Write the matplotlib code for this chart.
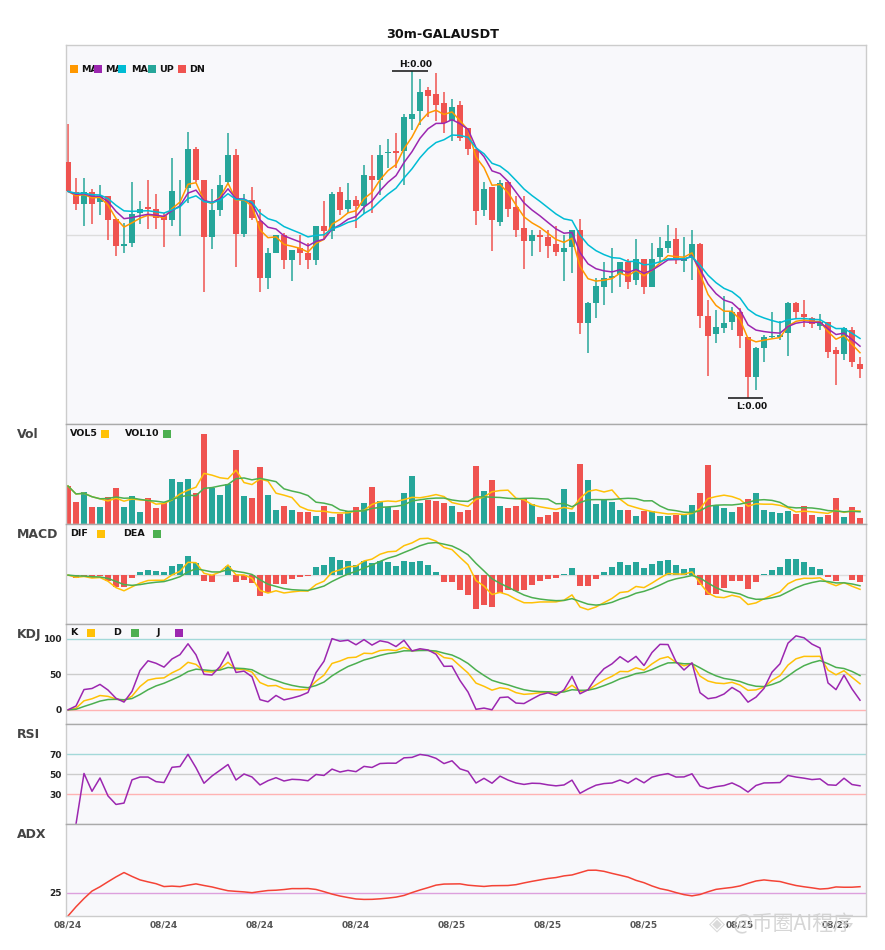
import numpy as np
import pandas as pd
import matplotlib
matplotlib.use("Agg")
import matplotlib.pyplot as plt
from matplotlib.patches import Rectangle
from matplotlib.transforms import Bbox, TransformedBbox

# ---------------- data (price in units of PRICE_SCALE) -------------
title = "30m-GALAUSDT"
opens = [813, 723, 686, 723, 692, 711, 643, 563, 572, 659, 678, 672, 652, 638, 731, 735, 853, 760, 590, 670,
         752, 835, 598, 700, 637, 467, 542, 594, 521, 555, 542, 521, 622, 605, 723, 672, 700, 680, 772, 760,
         839, 847, 847, 943, 965, 1030, 1018, 990, 935, 985, 915, 853, 670, 738, 632, 753, 678, 615, 578, 595,
         589, 568, 545, 558, 610, 332, 392, 440, 465, 478, 513, 460, 522, 440, 530, 557, 582, 517, 525, 568,
         352, 298, 315, 333, 365, 288, 170, 257, 290, 290, 300, 390, 358, 345, 322, 335, 250, 237, 310, 207]
highs = [928, 765, 765, 732, 744, 711, 643, 630, 754, 697, 760, 718, 660, 826, 760, 904, 857, 760, 733, 773,
         900, 852, 718, 738, 672, 557, 594, 600, 550, 594, 570, 622, 697, 723, 738, 751, 710, 803, 835, 863,
         882, 900, 957, 1085, 1060, 1038, 1080, 1024, 1003, 997, 915, 853, 753, 738, 760, 753, 710, 710, 610, 610,
         610, 620, 595, 610, 642, 395, 465, 513, 555, 513, 522, 582, 522, 570, 588, 624, 615, 588, 610, 570,
         400, 370, 412, 380, 375, 288, 260, 295, 363, 337, 395, 395, 400, 350, 358, 335, 260, 318, 320, 230]
lows = [725, 668, 620, 628, 655, 580, 532, 542, 560, 628, 613, 612, 560, 622, 593, 690, 752, 425, 554, 650,
        745, 500, 588, 640, 425, 432, 540, 494, 458, 505, 492, 505, 582, 582, 655, 660, 614, 658, 660, 715,
        795, 795, 743, 908, 925, 948, 935, 900, 875, 875, 833, 623, 650, 548, 620, 648, 590, 492, 532, 543,
        527, 533, 458, 480, 297, 242, 345, 385, 420, 440, 432, 445, 417, 438, 515, 540, 507, 485, 460, 317,
        173, 270, 300, 310, 255, 107, 132, 213, 285, 280, 233, 342, 318, 315, 310, 227, 145, 220, 200, 167]
closes = [725, 686, 723, 686, 710, 638, 563, 567, 657, 672, 672, 644, 638, 727, 733, 853, 760, 590, 670, 745,
          835, 598, 700, 644, 467, 540, 594, 521, 550, 542, 521, 622, 605, 718, 670, 700, 680, 775, 760, 835,
          842, 841, 948, 958, 1024, 1012, 985, 930, 978, 885, 853, 665, 733, 638, 750, 673, 610, 578, 595, 590,
          563, 545, 555, 610, 332, 390, 442, 465, 473, 513, 455, 522, 440, 522, 555, 577, 523, 525, 567, 353,
          293, 318, 332, 365, 293, 170, 255, 290, 292, 295, 390, 365, 348, 327, 335, 245, 237, 315, 215, 192]
volumes = [38, 22, 32, 17, 17, 27, 36, 17, 28, 12, 26, 16, 21, 45, 42, 45, 31, 90, 36, 29,
           40, 74, 28, 26, 57, 29, 14, 18, 14, 12, 12, 8, 18, 7, 10, 13, 17, 21, 37, 23,
           17, 14, 31, 48, 21, 24, 23, 21, 18, 12, 14, 58, 33, 44, 18, 16, 18, 25, 20, 7,
           9, 12, 35, 12, 60, 44, 20, 24, 22, 14, 14, 8, 13, 13, 8, 8, 9, 9, 19, 31,
           59, 19, 16, 12, 17, 25, 31, 14, 12, 11, 13, 10, 18, 9, 7, 9, 26, 7, 17, 6]
tick_index = [0, 12, 24, 36, 48, 60, 72, 84, 96]
tick_labels = ["08/24", "08/24", "08/24", "08/24", "08/25", "08/25", "08/25", "08/25", "08/25"]
ma_periods = [5, 8, 13]
PRICE_SCALE = 1e-6

# ---------------- indicators -------------------------------------------------------------
df = pd.DataFrame({"open": opens, "high": highs, "low": lows, "close": closes, "vol": volumes}, dtype=float)
n = len(df)
x = np.arange(n)
c, h, l, o = df["close"], df["high"], df["low"], df["open"]

mas = [c.ewm(span=p, adjust=False).mean() for p in ma_periods]
vol5 = df["vol"].rolling(5, min_periods=1).mean()
vol10 = df["vol"].rolling(10, min_periods=1).mean()

dif = c.ewm(span=6, adjust=False).mean() - c.ewm(span=13, adjust=False).mean()
dea = dif.ewm(span=5, adjust=False).mean()
hist = 2 * (dif - dea)

llv = l.rolling(9, min_periods=1).min()
hhv = h.rolling(9, min_periods=1).max()
rsv = ((c - llv) / (hhv - llv) * 100).fillna(0)
k = rsv.ewm(com=2, adjust=False).mean()
d = k.ewm(com=2, adjust=False).mean()
j = 3 * k - 2 * d

delta = c.diff()
ag = delta.clip(lower=0).ewm(alpha=1 / 14).mean()
al = (-delta).clip(lower=0).ewm(alpha=1 / 14).mean()
rsi = 100 * ag / (ag + al)

up_move = h.diff()
dn_move = -l.diff()
pdm = pd.Series(np.where((up_move > dn_move) & (up_move > 0), up_move, 0.0))
mdm = pd.Series(np.where((dn_move > up_move) & (dn_move > 0), dn_move, 0.0))
pc = c.shift(1)
tr = pd.concat([h - l, (h - pc).abs(), (l - pc).abs()], axis=1).max(axis=1)
atr = tr.ewm(alpha=1 / 10, adjust=False).mean()
pdi = 100 * pdm.ewm(alpha=1 / 10, adjust=False).mean() / atr
mdi = 100 * mdm.ewm(alpha=1 / 10, adjust=False).mean() / atr
dx = (100 * (pdi - mdi).abs() / (pdi + mdi)).fillna(0)
adx = dx.ewm(alpha=1 / 10, adjust=False).mean()

# ---------------- styling -------------------------------------------------------------
UP_C = "#26a69a"
DN_C = "#ef5350"
BG = "#f8f8fb"
FRAME = "#cccccc"
SEP = "#aaaaaa"
W, H = 885, 950

fig = plt.figure(figsize=(W / 100, H / 100), dpi=100)
fig.patch.set_facecolor("white")


def fx(px):
    return px / W


def fy(py):
    return 1 - py / H


def make_ax(top, bottom, sub=True):
    ax = fig.add_axes([fx(66), fy(bottom), fx(866) - fx(66), fy(top) - fy(bottom)])
    ax.set_facecolor(BG)
    for s in ax.spines.values():
        s.set_color(FRAME)
        s.set_linewidth(1)
    if sub:
        ax.spines["top"].set_color(SEP)
    ax.set_xlim(-0.25, n - 0.25)
    ax.tick_params(length=0, labelsize=6.5, colors="#222222", pad=3)
    ax.set_xticks([])
    return ax


ax_p = make_ax(45, 424, sub=False)
ax_v = make_ax(424, 524)
ax_m = make_ax(524, 624)
ax_k = make_ax(624, 724)
ax_r = make_ax(724, 824)
ax_a = make_ax(824, 916)

colors = np.where(c >= o, UP_C, DN_C)

# price
lo, hi = l.min(), h.max()
rng = hi - lo
ax_p.set_ylim(lo - 0.08 * rng, hi + 0.08 * rng)
ax_p.axhline((lo + hi) / 2, color="#dddddd", lw=1, zorder=0)
ax_p.set_yticks([])
ax_p.vlines(x, l, h, colors=colors, lw=1.1, zorder=2)
body_bottom = np.minimum(o, c)
body_h = np.maximum((c - o).abs(), 2.5)
ax_p.bar(x, body_h, bottom=body_bottom, width=0.75, color=colors, lw=0, zorder=3)
ma_cols = ["#ff9800", "#9c27b0", "#00bcd4"]
for ma, col in zip(mas, ma_cols):
    ax_p.plot(x, ma, color=col, lw=1.1, zorder=4)

ih = int(np.argmax(h.values))
il = int(np.argmin(l.values))
ax_p.hlines(h[ih], ih - 2.5, ih + 2.0, color="#222222", lw=1.2, zorder=5)
ax_p.annotate(f"H:{h[ih] * PRICE_SCALE:.2f}", (ih + 0.5, h[ih]), xytext=(0, 1.5), textcoords="offset points",
              ha="center", va="bottom", fontsize=6.5, fontweight="bold", color="#111111")
ax_p.hlines(l[il], il - 2.5, il + 1.9, color="#222222", lw=1.2, zorder=5)
ax_p.annotate(f"L:{l[il] * PRICE_SCALE:.2f}", (il + 0.5, l[il]), xytext=(0, -3), textcoords="offset points",
              ha="center", va="top", fontsize=6.5, fontweight="bold", color="#111111")

# volume
ax_v.bar(x, df["vol"], width=0.75, color=colors, lw=0, zorder=2)
ax_v.plot(x, vol5, color="#ffc107", lw=1.1, zorder=3)
ax_v.plot(x, vol10, color="#4caf50", lw=1.1, zorder=3)
ax_v.set_ylim(0, df["vol"].max() * 1.11)
ax_v.set_yticks([])

# macd
ax_m.axhline(0, color="#dddddd", lw=1, zorder=0)
ax_m.bar(x, hist, width=0.75, color=np.where(hist >= 0, UP_C, DN_C), lw=0, zorder=2)
ax_m.plot(x, dif, color="#ffc107", lw=1.1, zorder=3)
ax_m.plot(x, dea, color="#4caf50", lw=1.1, zorder=3)
allm = pd.concat([dif, dea, hist])
mr = allm.max() - allm.min()
ax_m.set_ylim(allm.min() - 0.2 * mr, allm.max() + 0.2 * mr)
ax_m.set_yticks([])

# kdj
ax_k.axhline(100, color="#a3d9d9", lw=1, zorder=0)
ax_k.axhline(50, color="#cccccc", lw=1, zorder=0)
ax_k.axhline(0, color="#ffb3b3", lw=1, zorder=0)
ax_k.plot(x, k, color="#ffc107", lw=1.1)
ax_k.plot(x, d, color="#4caf50", lw=1.1)
ax_k.plot(x, j, color="#9c27b0", lw=1.1)
ax_k.set_ylim(-20, 121)
ax_k.set_yticks([0, 50, 100])

# rsi
ax_r.axhline(70, color="#a3d9d9", lw=1, zorder=0)
ax_r.axhline(50, color="#cccccc", lw=1, zorder=0)
ax_r.axhline(30, color="#ffb3b3", lw=1, zorder=0)
ax_r.plot(x, rsi, color="#9c27b0", lw=1.1)
ax_r.set_ylim(0, 100)
ax_r.set_yticks([30, 50, 70])

# adx
ax_a.axhline(25, color="#dda0dd", lw=1, zorder=0)
ax_a.plot(x, adx, color="#f44336", lw=1.1)
ax_a.set_ylim(0, 100)
ax_a.set_yticks([25])
ax_a.set_xticks(tick_index)
ax_a.set_xticklabels(tick_labels)

for ax in (ax_k, ax_r, ax_a):
    for lab in ax.get_yticklabels():
        lab.set_fontweight("bold")
for lab in ax_a.get_xticklabels():
    lab.set_fontweight("bold")
    lab.set_color("#555555")
    lab.set_fontsize(6.5)

# ---------------- texts & legends -------------------------------------------------------
fig.text(0.5, fy(34), title, ha="center", va="center", fontsize=9.2, fontweight="bold", color="#111111")

for name, py in (("Vol", 434.5), ("MACD", 534.5), ("KDJ", 634.5), ("RSI", 734.5), ("ADX", 834.5)):
    fig.text(fx(17), fy(py), name, ha="left", va="center", fontsize=9, fontweight="bold", color="#444444")


def square(px, py, color, z=6):
    fig.add_artist(Rectangle((fx(px), fy(py + 4)), fx(8), 8 / H, transform=fig.transFigure,
                             facecolor=color, edgecolor="none", zorder=z))


def label(px, py, s, clip_to=None, z=5):
    t = fig.text(fx(px), fy(py), s, ha="left", va="center", fontsize=6.8, fontweight="bold",
                 color="#111111", zorder=z)
    if clip_to is not None:
        box = TransformedBbox(Bbox.from_extents(fx(px - 2), fy(py + 10), fx(clip_to), fy(py - 10)),
                              fig.transFigure)
        t.set_clip_box(box)
        t.set_clip_on(True)
    return t


# main legend: each label runs under the next swatch, as in the reference
legend_items = [(70, ma_cols[0], 81, f"MA{ma_periods[0]}", 94),
                (94, ma_cols[1], 105, f"MA{ma_periods[1]}", 118),
                (118, ma_cols[2], 131, f"MA{ma_periods[2]}", 148),
                (148, UP_C, 159, "UP", None),
                (178, DN_C, 189, "DN", None)]
for sx, col, tx, s, clip in legend_items:
    label(tx, 69, s, clip_to=clip)
    square(sx, 69, col)

label(70, 433.7, "VOL5")
square(101, 433.7, "#ffc107")
label(125, 433.7, "VOL10")
square(163, 433.7, "#4caf50")

label(70, 533.7, "DIF")
square(97, 533.7, "#ffc107")
label(123, 533.7, "DEA")
square(153, 533.7, "#4caf50")

label(70, 632.7, "K")
square(87, 632.7, "#ffc107")
label(113, 632.7, "D")
square(131, 632.7, "#4caf50")
label(157, 632.7, "J")
square(175, 632.7, "#9c27b0")

# watermark
fig.text(fx(717), fy(924), "◈", ha="center", va="center", fontsize=15, color="#d6d6d6", alpha=0.9, zorder=10)
fig.text(fx(733), fy(924), "@币圈AI程序", ha="left", va="center", fontsize=15, color="#cfcfcf", alpha=0.85,
         family=["Noto Sans CJK SC", "DejaVu Sans"], zorder=10)

fig.savefig("out.png", dpi=100, facecolor="white")
